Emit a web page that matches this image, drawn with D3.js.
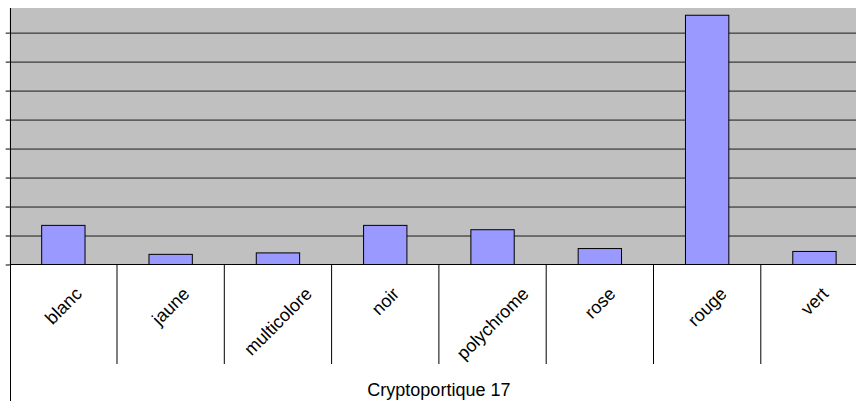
<!DOCTYPE html>
<html>
<head>
<meta charset="utf-8">
<script src="https://cdn.jsdelivr.net/npm/d3@7"></script>
<style>
  body { margin: 0; background: #fff; }
  svg { display: block; font-family: Arial, "Liberation Sans", sans-serif; }
</style>
</head>
<body>
<svg width="856" height="401"></svg>
<script>
// **** data ****
var categories = ["blanc", "jaune", "multicolore", "noir", "polychrome", "rose", "rouge", "vert"];
var counts = [27, 7, 8, 27, 24, 11, 172, 9];
var yTicks = [0, 20, 40, 60, 80, 100, 120, 140, 160];
var title = "Cryptoportique 17";

var data = categories.map(function(c, i) { return {cat: c, value: counts[i]}; });

// **** scales ****
var left = 9.7, step = 107.3;
var right = left + step * categories.length;   // runs past the window edge, like the original
var baseY = 264.5, topY = 8;

var xCat = d3.scaleBand().domain(categories).range([left, right]).padding(0);
var xBar = d3.scaleBand().domain(categories).range([left, right])
    .paddingInner(0.596).paddingOuter(0.298);
var y = d3.scaleLinear().domain([0, 177]).range([baseY, topY]);

var svg = d3.select("svg");

// plot background
svg.append("rect")
    .attr("x", left).attr("y", topY)
    .attr("width", right - left).attr("height", baseY - topY)
    .attr("fill", "#c0c0c0");

// gridlines
svg.append("g")
    .attr("transform", "translate(" + left + ",0)")
    .call(d3.axisLeft(y).tickValues(yTicks.slice(1)).tickSize(-(right - left)).tickFormat(""))
    .call(function(g) {
        g.select(".domain").remove();
        g.selectAll("line").attr("stroke", "#1a1a1a");
    });

// bars
svg.selectAll("rect.bar")
    .data(data)
    .enter()
    .append("rect")
    .attr("class", "bar")
    .attr("x", function(d) { return xBar(d.cat); })
    .attr("y", function(d) { return y(d.value); })
    .attr("width", xBar.bandwidth())
    .attr("height", function(d) { return baseY - y(d.value); })
    .attr("fill", "#9999ff")
    .attr("stroke", "#000")
    .attr("stroke-width", 1);

// y axis ticks, no labels
svg.append("g")
    .attr("transform", "translate(" + left + ",0)")
    .call(d3.axisLeft(y).tickValues(yTicks).tickSize(4).tickFormat(""))
    .call(function(g) {
        g.select(".domain").remove();
        g.selectAll("line").attr("stroke", "#000");
    });

// x axis line
svg.append("line")
    .attr("x1", left).attr("x2", right)
    .attr("y1", baseY).attr("y2", baseY)
    .attr("stroke", "#000");

// left border line, runs to bottom
svg.append("line")
    .attr("x1", left + 0.8).attr("x2", left + 0.8)
    .attr("y1", topY).attr("y2", 401)
    .attr("stroke", "#000");

// category separators below the axis
svg.selectAll("line.sep")
    .data(categories.slice(1))
    .enter()
    .append("line")
    .attr("class", "sep")
    .attr("x1", function(d) { return xCat(d); })
    .attr("x2", function(d) { return xCat(d); })
    .attr("y1", baseY).attr("y2", 364)
    .attr("stroke", "#000");

// rotated category labels, top end kept at the same height
svg.selectAll("text.cat")
    .data(categories)
    .enter()
    .append("text")
    .attr("class", "cat")
    .attr("font-size", 18)
    .attr("text-anchor", "middle")
    .attr("dy", "0.35em")
    .text(function(d) { return d; })
    .each(function(d) {
        var len = this.getComputedTextLength();
        var cx = xCat(d) + xCat.bandwidth() / 2;
        var cy = 287 + (len + 10) * 0.354;
        d3.select(this)
            .attr("x", cx).attr("y", cy)
            .attr("transform", "rotate(-45," + cx + "," + cy + ")");
    });

// title
svg.append("text")
    .attr("x", (left + right) / 2)
    .attr("y", 396)
    .attr("text-anchor", "middle")
    .attr("font-size", 18)
    .text(title);
</script>
</body>
</html>
